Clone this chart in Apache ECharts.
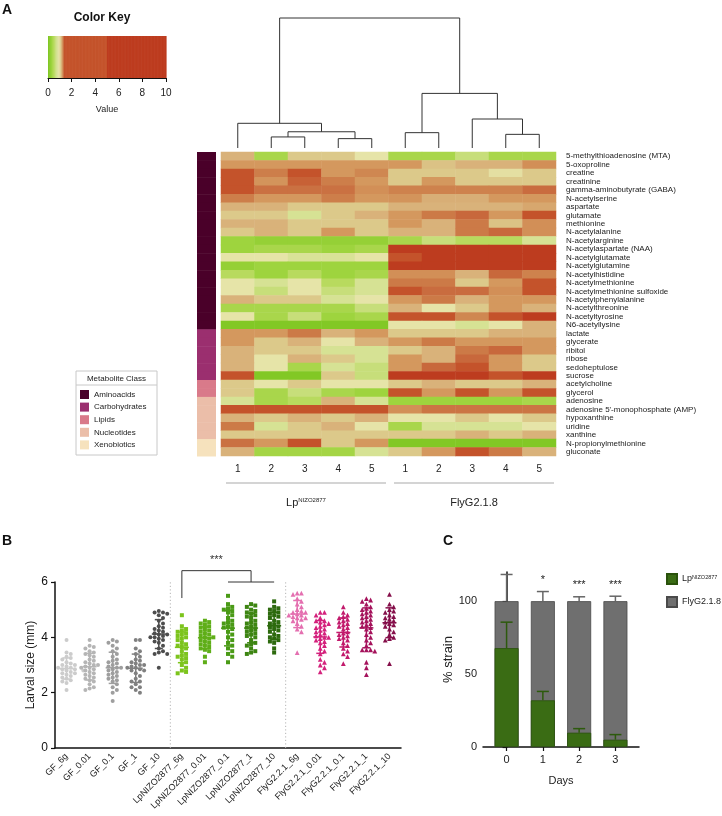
<!DOCTYPE html>
<html><head><meta charset="utf-8">
<script src="https://cdn.jsdelivr.net/npm/echarts@6/dist/echarts.min.js"></script>
<style>html,body{margin:0;padding:0;background:#fff}#c{width:722px;height:816px}</style>
</head><body><div id="c"></div>
<script>
// ================= Panel A data =================
const metabolites = ['5-methylthioadenosine (MTA)','5-oxoproline','creatine','creatinine','gamma-aminobutyrate (GABA)','N-acetylserine','aspartate','glutamate','methionine','N-acetylalanine','N-acetylarginine','N-acetylaspartate (NAA)','N-acetylglutamate','N-acetylglutamine','N-acetylhistidine','N-acetylmethionine','N-acetylmethionine sulfoxide','N-acetylphenylalanine','N-acetylthreonine','N-acetyltyrosine','N6-acetyllysine','lactate','glycerate','ribitol','ribose','sedoheptulose','sucrose','acetylcholine','glycerol','adenosine',"adenosine 5'-monophosphate (AMP)",'hypoxanthine','uridine','xanthine','N-propionylmethionine','gluconate'];
const sampleLabels = ['1','2','3','4','5','1','2','3','4','5'];
const sampleGroups = ['LpNIZO2877','FlyG2.1.8'];
// one row per metabolite: Lp 1-5, FlyG 1-5
const heatValues = [
 [1.15,0.40,1.08,1.08,0.92, 0.40,0.40,0.62,0.40,0.40],
 [1.22,1.22,1.22,1.22,1.22, 1.22,1.10,1.15,1.15,1.24],
 [3.0,1.28,3.0,1.22,1.26, 1.08,1.08,1.08,0.95,1.08],
 [2.5,1.23,1.34,1.28,1.22, 1.08,1.22,1.08,1.08,1.08],
 [2.5,1.31,1.31,1.31,1.24, 1.27,1.27,1.27,1.27,1.32],
 [1.28,1.22,1.22,1.28,1.22, 1.23,1.16,1.16,1.22,1.22],
 [1.15,1.15,1.08,1.08,1.08, 1.15,1.15,1.15,1.15,1.18],
 [1.08,1.08,0.75,1.08,1.15, 1.22,1.29,1.33,1.22,3.0],
 [1.15,1.15,1.08,1.08,1.08, 1.22,1.15,1.29,1.10,1.24],
 [1.08,1.15,1.08,1.22,1.08, 1.15,1.15,1.29,1.33,1.24],
 [0.30,0.22,0.22,0.22,0.22, 0.40,0.62,0.50,0.50,0.75],
 [0.30,0.40,0.40,0.30,0.40, 7,7,7,7,7],
 [0.92,0.92,0.78,0.78,0.92, 4,7,7,7,7],
 [0.22,0.30,0.30,0.30,0.30, 6,6,6,6,6],
 [0.50,0.30,0.50,0.30,0.40, 1.24,1.24,1.15,1.33,1.27],
 [0.92,0.75,0.92,0.50,0.75, 1.29,1.29,1.08,1.22,3.0],
 [0.92,0.62,0.92,0.62,0.75, 3.0,1.32,1.32,1.24,3.0],
 [1.15,1.08,1.08,0.75,0.92, 1.22,1.29,1.15,1.22,1.22],
 [0.40,0.40,0.40,0.40,0.62, 1.15,0.92,1.08,1.22,1.15],
 [0.92,0.40,0.62,0.30,0.40, 4,4,1.26,2.0,6],
 [0.05,0.05,0.05,0.05,0.05, 0.92,0.92,0.75,0.92,1.15],
 [1.22,1.22,1.29,1.15,1.22, 1.08,1.08,1.08,1.15,1.15],
 [1.22,1.08,1.15,0.92,1.15, 1.22,1.29,1.22,1.22,1.22],
 [1.15,1.08,1.08,0.75,0.75, 1.08,1.15,1.29,1.33,1.22],
 [1.15,0.92,1.15,1.08,0.75, 1.22,1.15,1.33,1.22,1.08],
 [1.15,0.92,0.40,0.75,0.62, 1.22,1.33,3.0,1.22,1.08],
 [3.0,0.05,0.05,1.08,0.62, 7,7,7,4,7],
 [1.08,0.92,1.08,0.92,0.92, 1.08,1.15,1.08,1.08,1.15],
 [1.08,0.40,0.62,0.40,0.30, 3.5,1.22,3.5,1.22,3.5],
 [0.75,0.40,0.50,1.15,0.75, 0.30,0.30,0.30,0.30,0.40],
 [4,2,2,2,4, 1.24,1.30,1.30,1.30,1.30],
 [1.15,1.08,1.15,1.08,1.15, 0.92,0.92,1.08,0.92,1.08],
 [1.29,0.75,1.08,1.15,0.92, 0.40,0.75,0.75,0.75,0.92],
 [1.08,1.08,1.08,1.08,1.08, 1.08,1.08,1.15,1.08,1.15],
 [1.31,1.22,3.0,1.08,1.22, 0.05,0.05,0.05,0.05,0.05],
 [1.15,0.35,0.35,0.35,0.75, 1.08,1.22,3.0,1.29,1.15]
];
const classNames = ['Aminoacids','Carbohydrates','Lipids','Nucleotides','Xenobiotics'];
const classRowCounts = [21,6,2,5,2];
// column dendrogram: [childA, childB, height]; leaves 0-9, merged nodes numbered from 10
const dendroMerges = [[1,2,0.085],[3,4,0.072],[10,11,0.125],[0,12,0.19],[5,6,0.118],[8,9,0.105],[7,15,0.223],[14,16,0.42],[13,17,1.0]];
const keyTicks = [0,2,4,6,8,10];

// ================= Panel B data =================
const bGroups = ['GF_6g','GF_0.01','GF_0.1','GF_1','GF_10','LpNIZO2877_6g','LpNIZO2877_0.01','LpNIZO2877_0.1','LpNIZO2877_1','LpNIZO2877_10','FlyG2.2.1_6g','FlyG2.2.1_0.01','FlyG2.2.1_0.1','FlyG2.2.1_1','FlyG2.2.1_10'];
const bGF_6g = [3.9,3.45,3.4,3.3,3.25,3.2,3.1,3.05,3.0,3.0,2.95,2.9,2.9,2.85,2.85,2.8,2.8,2.75,2.7,2.7,2.65,2.6,2.55,2.5,2.45,2.4,2.35,2.1];
const bGF_001 = [3.9,3.7,3.65,3.6,3.5,3.45,3.4,3.35,3.3,3.2,3.15,3.1,3.05,3.0,3.0,2.95,2.9,2.9,2.85,2.8,2.75,2.7,2.65,2.6,2.55,2.5,2.45,2.4,2.3,2.2,2.15,2.1];
const bGF_01 = [3.9,3.85,3.8,3.7,3.6,3.5,3.4,3.3,3.2,3.15,3.1,3.05,3.0,2.95,2.9,2.9,2.85,2.8,2.75,2.7,2.65,2.6,2.55,2.5,2.45,2.4,2.3,2.2,2.1,2.0,1.7];
const bGF_1 = [3.9,3.9,3.6,3.5,3.4,3.3,3.2,3.15,3.1,3.05,3.0,3.0,2.95,2.9,2.9,2.85,2.8,2.8,2.7,2.6,2.5,2.4,2.4,2.3,2.2,2.2,2.1,2.0];
const bGF_10 = [4.95,4.9,4.9,4.85,4.8,4.7,4.6,4.5,4.4,4.35,4.3,4.25,4.2,4.15,4.1,4.1,4.05,4.0,4.0,3.95,3.9,3.85,3.8,3.7,3.6,3.5,3.45,3.4,3.4,2.9];
const bLp_6g = [4.8,4.4,4.3,4.25,4.2,4.15,4.1,4.05,4.0,3.95,3.9,3.8,3.75,3.7,3.65,3.6,3.5,3.4,3.35,3.3,3.25,3.2,3.1,3.0,2.9,2.8,2.75,2.7];
const bLp_001 = [4.6,4.55,4.5,4.45,4.4,4.35,4.3,4.25,4.2,4.15,4.1,4.05,4.0,4.0,3.95,3.9,3.85,3.8,3.75,3.7,3.65,3.6,3.55,3.5,3.3,3.1];
const bLp_01 = [5.5,5.2,5.1,5.05,5.0,4.95,4.9,4.8,4.7,4.6,4.55,4.5,4.45,4.4,4.35,4.3,4.2,4.1,4.0,3.9,3.8,3.7,3.6,3.5,3.4,3.3,3.1];
const bLp_1 = [5.2,5.15,5.1,5.0,4.95,4.9,4.85,4.8,4.75,4.7,4.6,4.55,4.5,4.45,4.4,4.35,4.3,4.25,4.2,4.15,4.1,4.05,4.0,3.9,3.8,3.75,3.7,3.6,3.5,3.45,3.4];
const bLp_10 = [5.3,5.1,5.05,5.0,4.95,4.9,4.85,4.8,4.75,4.7,4.6,4.55,4.5,4.45,4.4,4.35,4.3,4.25,4.2,4.1,4.05,4.0,3.95,3.9,3.85,3.8,3.6,3.45];
const bFly_6g = [5.6,5.6,5.55,5.4,5.3,5.2,5.1,5.0,4.95,4.9,4.9,4.85,4.8,4.8,4.75,4.7,4.7,4.65,4.6,4.5,4.4,4.3,4.2,3.45];
const bFly_001 = [4.9,4.9,4.8,4.7,4.6,4.6,4.55,4.5,4.45,4.4,4.35,4.3,4.25,4.2,4.15,4.1,4.05,4.0,4.0,3.95,3.9,3.85,3.8,3.7,3.6,3.5,3.4,3.2,3.1,3.0,2.9,2.75];
const bFly_01 = [5.1,4.9,4.8,4.75,4.7,4.65,4.6,4.55,4.5,4.45,4.4,4.35,4.3,4.2,4.15,4.1,4.05,4.0,3.95,3.9,3.8,3.7,3.6,3.5,3.4,3.3,3.05];
const bFly_1 = [5.4,5.35,5.3,5.2,5.1,5.05,5.0,4.95,4.9,4.85,4.8,4.75,4.7,4.65,4.6,4.55,4.5,4.45,4.4,4.35,4.3,4.2,4.1,4.0,3.9,3.8,3.7,3.55,3.55,3.55,3.5,3.1,2.9,2.65];
const bFly_10 = [5.55,5.2,5.1,5.0,4.95,4.9,4.8,4.75,4.7,4.65,4.6,4.55,4.5,4.45,4.4,4.3,4.2,4.1,4.0,3.95,3.9,3.05];
const bValues = [bGF_6g,bGF_001,bGF_01,bGF_1,bGF_10,bLp_6g,bLp_001,bLp_01,bLp_1,bLp_10,bFly_6g,bFly_001,bFly_01,bFly_1,bFly_10];
const bYTicks = [0,2,4,6];
const bSigLabel = '***';

// ================= Panel C data =================
const cDays = ['0','1','2','3'];
const cLp = [67.8, 32.0, 9.8, 5.0];
const cFly = [32.2, 68.0, 90.2, 95.0];
const cLpErr = [17.8, 6.1, 2.8, 3.5];
const cFlyErr = [18.3, 6.6, 3.0, 3.4];
const cStars = ['', '*', '***', '***'];
const cYTicks = [0,50,100];

// ================= styling =================
const FONT = 'Liberation Sans, Arial, sans-serif';
const classColors = ['#4a0029','#9b2f6f','#d97a8a','#ebbea9','#f6e2bd'];
const bColors = ['#cccccc','#b5b5b5','#9e9e9e','#808080','#4d4d4d','#7cc41c','#5fae18','#4a9a16','#3d8512','#2d6a0e','#e46fb0','#d4217c','#c21a6c','#a5135c','#850f4a'];
const bSymbols = ['circle','circle','circle','circle','circle','rect','rect','rect','rect','rect','triangle','triangle','triangle','triangle','triangle'];
const colorStops = [
 [0,'#7cc520'],[0.3,'#9ed43e'],[0.4,'#a9d64b'],[0.5,'#b8da5e'],[0.62,'#c7de7a'],[0.75,'#d6e294'],
 [0.92,'#e6e4a8'],[1.08,'#dcc98a'],[1.15,'#d9b27a'],[1.22,'#d4985e'],[1.28,'#cd7e4a'],[1.33,'#c8683c'],
 [1.36,'#c4532b'],[4.999,'#c4532b'],[5.0,'#bd3c1f'],[10,'#bd3c1f']];
function h2r(h){return [1,3,5].map(i=>parseInt(h.slice(i,i+2),16));}
function colorOf(v){
  if (v <= colorStops[0][0]) return colorStops[0][1];
  for (let i=0;i<colorStops.length-1;i++){
    const [a,ca]=colorStops[i],[b,cb]=colorStops[i+1];
    if (v<=b){const t=(v-a)/(b-a);const A=h2r(ca),B=h2r(cb);
      return 'rgb('+A.map((x,k)=>Math.round(x+(B[k]-x)*t)).join(',')+')';}
  }
  return colorStops[colorStops.length-1][1];
}
const rampColors = Array.from({length:1001},(_,i)=>colorOf(i/100));

// dendrogram node positions
const nodeX = sampleLabels.map((_,i)=>i+0.5), nodeH = sampleLabels.map(()=>0);
const dendroData = dendroMerges.map(([a,b,h])=>{
  const d=[nodeX[a],nodeH[a],nodeX[b],nodeH[b],h];
  nodeX.push((nodeX[a]+nodeX[b])/2); nodeH.push(h); return d;});

// class of each row
const rowClass = [];
classRowCounts.forEach((n,k)=>{for(let i=0;i<n;i++)rowClass.push(k);});

const heatData = [];
heatValues.forEach((row,r)=>row.forEach((v,c)=>heatData.push([c,r,v])));

// ------------- layout -------------
const G_KEY={left:48,top:36,width:118,height:42};
const G_DEN={left:221,top:18,width:335,height:130};
const G_SIDE={left:197,top:152,width:19,height:304};
const G_HEAT={left:221,top:152,width:335,height:304};
const G_B={left:55,top:582,width:346,height:166};
const G_C={left:483,top:572,width:156,height:175};

// beeswarm offsets (pixel layout only)
const bUnitPx = G_B.height/6;
function swarm(vals){
  const placed=[], out=[];
  vals.forEach(v=>{
    const y=v*bUnitPx; let off=0;
    const cands=[0,4.2,-4.2,8.4,-8.4,12.6,-12.6,16.8,-16.8];
    for(const c of cands){
      if(placed.every(p=>Math.abs(p[1]-y)>=3.8||Math.abs(p[0]-c)>=4.2)){off=c;break;}
      off=c;
    }
    placed.push([off,y]); out.push(off);
  });
  return out;
}
function mean(a){return a.reduce((s,x)=>s+x,0)/a.length;}
function sd(a){const m=mean(a);return Math.sqrt(a.reduce((s,x)=>s+(x-m)*(x-m),0)/(a.length-1));}

const series = [];
// 0: heatmap
series.push({type:'heatmap',xAxisIndex:3,yAxisIndex:3,data:heatData,itemStyle:{borderWidth:0},emphasis:{disabled:true},progressive:0,silent:true});
// key
const keySteps=[];for(let i=0;i<200;i++)keySteps.push([i*0.05,(i+1)*0.05]);
series.push({type:'custom',xAxisIndex:0,yAxisIndex:0,silent:true,data:keySteps,
  renderItem:(p,api)=>{const a=api.coord([api.value(0),1]),b=api.coord([api.value(1),0]);
    const col=colorOf((api.value(0)+api.value(1))/2);
    return {type:'rect',shape:{x:a[0],y:a[1],width:b[0]-a[0]+0.6,height:b[1]-a[1]},style:{fill:col}};}});
// dendrogram
series.push({type:'custom',xAxisIndex:1,yAxisIndex:1,silent:true,data:dendroData,
  renderItem:(p,api)=>{const xa=api.value(0),ha=api.value(1),xb=api.value(2),hb=api.value(3),h=api.value(4);
    const pts=[api.coord([xa,ha]),api.coord([xa,h]),api.coord([xb,h]),api.coord([xb,hb])];
    return {type:'polyline',shape:{points:pts},style:{stroke:'#333',lineWidth:1,fill:null}};}});
// sidebar classes
classNames.forEach((name,k)=>{
  const d=[];rowClass.forEach((c,r)=>{if(c===k)d.push([0,r]);});
  series.push({type:'custom',name,xAxisIndex:2,yAxisIndex:2,silent:true,data:d,itemStyle:{color:classColors[k]},
    encode:{x:0,y:1},
    renderItem:(p,api)=>{const c=api.coord([0,api.value(1)]),s=api.size([1,1]);
      return {type:'rect',shape:{x:c[0]-s[0]/2,y:c[1]-s[1]/2,width:s[0],height:s[1]+0.5},style:{fill:api.visual('color')}};}});
});
// B separators
series.push({type:'custom',xAxisIndex:4,yAxisIndex:4,silent:true,data:[[4,5],[9,10]],z:1,
  renderItem:(p,api)=>{const a=api.coord([api.value(0),0]),b=api.coord([api.value(1),0]);const x=(a[0]+b[0])/2;
    const t=api.coord([api.value(0),6.05]);
    return {type:'line',shape:{x1:x,y1:a[1],x2:x,y2:t[1]},style:{stroke:'#b5b5b5',lineWidth:1,lineDash:[1.2,2.3]}};}});
// B scatter
bValues.forEach((vals,g)=>{
  const offs=swarm(vals);
  series.push({type:'scatter',name:bGroups[g],xAxisIndex:4,yAxisIndex:4,symbol:bSymbols[g],symbolSize:bSymbols[g]==='triangle'?4.8:4,
    itemStyle:{color:bColors[g],opacity:1},silent:true,z:2,
    data:vals.map((v,i)=>({value:[g,v],symbolOffset:[offs[i],0]}))});
});
// B error bars
series.push({type:'custom',xAxisIndex:4,yAxisIndex:4,silent:true,z:3,
  data:bValues.map((vals,g)=>[g,mean(vals),sd(vals)]),
  renderItem:(p,api)=>{const g=api.value(0),m=api.value(1),s=api.value(2);
    const pm=api.coord([g,m]),pt=api.coord([g,m+s]),pb=api.coord([g,m-s]);const x=pm[0];
    const st={stroke:bColors[g],lineWidth:1.5};
    return {type:'group',children:[
      {type:'line',shape:{x1:x,y1:pt[1],x2:x,y2:pb[1]},style:st},
      {type:'line',shape:{x1:x-4,y1:pt[1],x2:x+4,y2:pt[1]},style:st},
      {type:'line',shape:{x1:x-4,y1:pb[1],x2:x+4,y2:pb[1]},style:st},
      {type:'line',shape:{x1:x-7,y1:pm[1],x2:x+7,y2:pm[1]},style:st}]};}});
// B significance bracket
series.push({type:'custom',xAxisIndex:4,yAxisIndex:4,silent:true,z:3,data:[[5,7,9,8]],
  renderItem:(p,api)=>{const l=api.coord([api.value(0),5.42]),lt=api.coord([api.value(0),6.41]);
    const r1=api.coord([api.value(1),6.0]),r2=api.coord([api.value(2),6.0]),mx=api.coord([api.value(3),6.41]);
    const st={stroke:'#333',lineWidth:1};
    return {type:'group',children:[
      {type:'polyline',shape:{points:[[l[0],l[1]],[l[0],lt[1]],[mx[0],lt[1]],[mx[0],r1[1]]]},style:Object.assign({fill:null},st)},
      {type:'line',shape:{x1:r1[0],y1:r1[1],x2:r2[0],y2:r2[1]},style:st},
      {type:'text',style:{text:bSigLabel,x:(l[0]+mx[0])/2,y:lt[1]-5,align:'center',verticalAlign:'bottom',fontSize:11,fill:'#333',fontFamily:FONT}}]};}});
// C bars: FlyG2.1.8 drawn as the full stacked column (Lp + FlyG), Lp drawn over its lower part
series.push({type:'bar',name:'FlyG2.1.8',xAxisIndex:5,yAxisIndex:5,barWidth:24,barGap:'-100%',z:2,
  data:cFly.map((v,i)=>[i,cLp[i]+v]),itemStyle:{color:'#6f6f6f',borderColor:'#4a4a4a',borderWidth:0.8},silent:true});
series.push({type:'bar',name:'LpNIZO2877',xAxisIndex:5,yAxisIndex:5,barWidth:24,barGap:'-100%',z:3,
  data:cLp.map((v,i)=>[i,v]),itemStyle:{color:'#3a6c14',borderColor:'#2a520c',borderWidth:0.8},silent:true});
// C error bars + stars
series.push({type:'custom',xAxisIndex:5,yAxisIndex:5,silent:true,z:5,
  data:cDays.map((_,i)=>[i,cLp[i],cLpErr[i],cLp[i]+cFly[i],cFlyErr[i]]),
  renderItem:(p,api)=>{const i=api.value(0);const kids=[];
    [[api.value(1),api.value(2),'#2d5a0d'],[api.value(3),api.value(4),'#666']].forEach(([t,e,c])=>{
      const a=api.coord([i,t]),b=api.coord([i,t+e]);const st={stroke:c,lineWidth:1.5};
      kids.push({type:'line',shape:{x1:a[0],y1:a[1],x2:b[0],y2:b[1]},style:st});
      kids.push({type:'line',shape:{x1:b[0]-6,y1:b[1],x2:b[0]+6,y2:b[1]},style:st});});
    const top=api.coord([i,api.value(3)+api.value(4)]);
    kids.push({type:'text',style:{text:cStars[i],x:top[0],y:top[1]-6,align:'center',verticalAlign:'bottom',fontSize:11,fill:'#222',fontFamily:FONT}});
    return {type:'group',children:kids};}});

const axisBlack={lineStyle:{color:'#111',width:1.5}};
const option = {
  animation:false,
  textStyle:{fontFamily:FONT},
  grid:[G_KEY,G_DEN,G_SIDE,G_HEAT,G_B,G_C].map(g=>Object.assign({containLabel:false},g)),
  visualMap:{type:'continuous',show:false,seriesIndex:0,min:0,max:10,inRange:{color:rampColors}},
  xAxis:[
    {gridIndex:0,type:'value',min:0,max:10,interval:2,axisLine:{lineStyle:{color:'#111',width:1}},axisTick:{length:4,lineStyle:{color:'#111'}},
      splitLine:{show:false},axisLabel:{fontSize:10,color:'#222',margin:10,customValues:keyTicks},
      name:'Value',nameLocation:'middle',nameGap:27,nameTextStyle:{fontSize:9,color:'#222'}},
    {gridIndex:1,type:'value',min:0,max:10,show:false},
    {gridIndex:2,type:'category',data:['class'],show:false},
    {gridIndex:3,type:'category',data:sampleLabels,axisLine:{show:false},axisTick:{show:false},
      axisLabel:{fontSize:10,color:'#222',margin:8,interval:0}},
    {gridIndex:4,type:'category',data:bGroups,axisLine:axisBlack,axisTick:{alignWithLabel:true,length:4,lineStyle:{color:'#111',width:1.2}},
      axisLabel:{rotate:45,fontSize:9,color:'#222',interval:0,margin:7}},
    {gridIndex:5,type:'value',min:-0.65,max:3.65,axisLine:axisBlack,splitLine:{show:false},
      axisTick:{length:4,lineStyle:{color:'#111',width:1.2},customValues:[0,1,2,3]},
      axisLabel:{fontSize:11,color:'#222',margin:7,customValues:[0,1,2,3],formatter:v=>cDays[Math.round(v)]},
      name:'Days',nameLocation:'middle',nameGap:28,nameTextStyle:{fontSize:11,color:'#222'}}
  ],
  yAxis:[
    {gridIndex:0,type:'value',min:0,max:1,show:false},
    {gridIndex:1,type:'value',min:0,max:1,show:false},
    {gridIndex:2,type:'category',data:metabolites,inverse:true,show:false},
    {gridIndex:3,type:'category',data:metabolites,inverse:true,position:'right',axisLine:{show:false},axisTick:{show:false},
      axisLabel:{fontSize:8,color:'#222',margin:10,interval:0}},
    {gridIndex:4,type:'value',min:0,max:6,interval:2,axisLine:{show:true,lineStyle:{color:'#111',width:1.5}},
      axisTick:{show:true,length:4,lineStyle:{color:'#111',width:1.2}},splitLine:{show:false},
      axisLabel:{fontSize:12,color:'#111',margin:7,customValues:bYTicks},
      name:'Larval size (mm)',nameLocation:'middle',nameGap:18,nameTextStyle:{fontSize:12,color:'#222'}},
    {gridIndex:5,type:'value',min:0,max:120,axisLine:{show:true,lineStyle:{color:'#111',width:1.5}},splitLine:{show:false},
      axisTick:{show:true,length:4,lineStyle:{color:'#111',width:1.2},customValues:cYTicks},
      axisLabel:{fontSize:11,color:'#222',margin:6,customValues:cYTicks},
      name:'% strain',nameLocation:'middle',nameGap:26,nameTextStyle:{fontSize:13,color:'#222'}}
  ],
  legend:[
    {data:classNames,orient:'vertical',left:80,top:390,itemWidth:9,itemHeight:9,itemGap:3.6,icon:'rect',selectedMode:false,
      textStyle:{fontSize:8,color:'#222'},padding:0},
    {data:['LpNIZO2877','FlyG2.1.8'],orient:'vertical',left:666,top:573,itemWidth:10,itemHeight:10,itemGap:11,icon:'rect',selectedMode:false,padding:0,
      formatter:n=>n==='LpNIZO2877'?'{a|Lp}{s|NIZO2877}':'{a|'+n+'}',
      textStyle:{color:'#222',rich:{a:{fontSize:9,color:'#222'},s:{fontSize:5.5,color:'#222',verticalAlign:'top',padding:[0,0,4,0]}}}}
  ],
  graphic:[
    {type:'text',left:2,top:3,style:{text:'A',font:'bold 14px '+FONT,fill:'#111'}},
    {type:'text',left:2,top:534,style:{text:'B',font:'bold 14px '+FONT,fill:'#111'}},
    {type:'text',left:443,top:534,style:{text:'C',font:'bold 14px '+FONT,fill:'#111'}},
    {type:'text',x:102,y:18,style:{text:'Color Key',font:'bold 12px '+FONT,fill:'#111',align:'center',verticalAlign:'middle'}},
    {type:'rect',shape:{x:76,y:371,width:81,height:84},style:{fill:null,stroke:'#c8c8c8',lineWidth:1}},
    {type:'line',shape:{x1:76,y1:385,x2:157,y2:385},style:{stroke:'#c8c8c8',lineWidth:1}},
    {type:'text',x:116.5,y:378.5,style:{text:'Metabolite Class',font:'8px '+FONT,fill:'#222',align:'center',verticalAlign:'middle'}},
    {type:'line',shape:{x1:226,y1:483,x2:386,y2:483},style:{stroke:'#aaa',lineWidth:1.2}},
    {type:'line',shape:{x1:394,y1:483,x2:554,y2:483},style:{stroke:'#aaa',lineWidth:1.2}},
    {type:'text',x:306,y:503,style:{text:'{a|Lp}{s|NIZO2877}',align:'center',verticalAlign:'middle',
      rich:{a:{fontSize:11,fontFamily:FONT,fill:'#222'},s:{fontSize:6,fontFamily:FONT,fill:'#222',verticalAlign:'top',padding:[0,0,5,0]}}}},
    {type:'text',x:474,y:503,style:{text:'FlyG2.1.8',font:'11px '+FONT,fill:'#222',align:'center',verticalAlign:'middle'}}
  ],
  series
};
const chart = echarts.init(document.getElementById('c'),null,{renderer:'canvas'});
chart.setOption(option);
</script></body></html>
